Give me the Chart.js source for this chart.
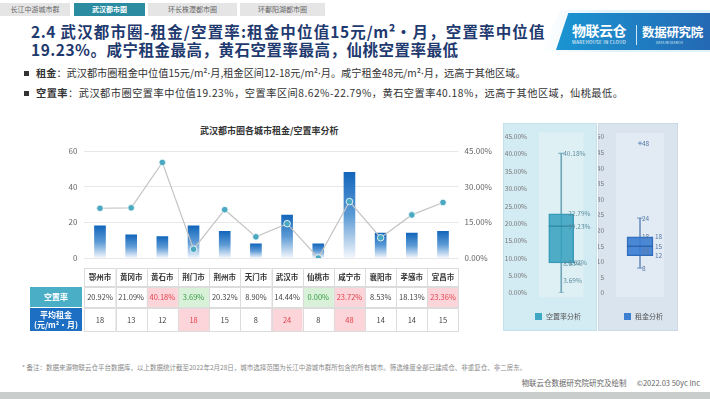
<!DOCTYPE html>
<html>
<head>
<meta charset="utf-8">
<script src="https://cdn.jsdelivr.net/npm/chart.js@4.4.0/dist/chart.umd.min.js"></script>
<style>
  body { margin: 0; width: 710px; height: 399px; overflow: hidden; background: #fff; position: relative;
         font-family: "Noto Sans CJK SC", "Noto Sans", sans-serif; }
  .tab { position: absolute; top: 3px; height: 13px; line-height: 13px; background: #e5e5e5; color: #666;
         font-size: 7px; text-align: center; }
  .tab.on { background: #2a8ba1; color: #fff; font-weight: bold; }
  .title { position: absolute; left: 31px; font-size: 15.5px; font-weight: bold; color: #1f3a6f;
           letter-spacing: 0.5px; line-height: 18px; white-space: nowrap; }
  .bullet { position: absolute; left: 24px; font-size: 10.2px; color: #333; white-space: nowrap; line-height: 12px; }
  .bullet i { display: inline-block; width: 5px; height: 5px; background: #333; margin-right: 7px; vertical-align: 1px; }
  .dot { font-family: "Noto Sans", sans-serif; }
  .abs { position: absolute; }
  .legend { position: absolute; top: 312px; font-size: 7px; color: #555; white-space: nowrap; line-height: 9px; }
  .legend i { display: inline-block; width: 7px; height: 7px; margin-right: 4px; vertical-align: -1px; }
</style>
</head>
<body>
<div class="tab" style="left:0;width:70px">长江中游城市群</div>
<div class="tab on" style="left:74px;width:71px">武汉都市圈</div>
<div class="tab" style="left:148px;width:89px">环长株潭都市圈</div>
<div class="tab" style="left:240px;width:85px">环鄱阳湖都市圈</div>

<div class="title" style="top:22px;width:514px;text-align:justify;text-align-last:justify">2.4 武汉都市圈-租金/空置率:租金中位值15元/m²·月，空置率中位值</div>
<div class="title" style="top:40px">19.23%。咸宁租金最高，黄石空置率最高，仙桃空置率最低</div>

<!-- logo -->
<div class="abs" style="left:540px;top:10px;width:170px;height:42px;background:linear-gradient(90deg,rgba(225,243,250,0),#e3f3fa 40%);clip-path:polygon(12% 0,100% 0,100% 100%,0 100%)"></div>
<div class="abs" style="left:556px;top:13px;width:154px;height:37px;background:linear-gradient(90deg,#1b95d2,#2469b3);clip-path:polygon(8% 0,100% 0,100% 100%,0 100%)"></div>
<div class="abs" style="left:572px;top:22px;color:#fff;font-size:14px;font-weight:bold;letter-spacing:-0.5px;line-height:16px">物联云仓</div>
<div class="abs" style="left:572px;top:40px;color:#fff;font-size:4.5px;line-height:5px;letter-spacing:0.3px">WAREHOUSE IN CLOUD</div>
<div class="abs" style="left:636px;top:25px;width:1px;height:20px;background:#cfe6f5"></div>
<div class="abs" style="left:642px;top:25px;color:#fff;font-size:12.5px;font-weight:bold;line-height:14px;letter-spacing:-0.3px">数据研究院</div>
<div class="abs" style="left:656px;top:41px;color:#d5e9f7;font-size:3.5px;line-height:4px">DATA RESEARCH</div>

<div class="bullet" style="top:67px"><i></i><b>租金</b>：武汉都市圈租金中位值15元/m²<span class="dot">·</span>月,租金区间12-18元/m²<span class="dot">·</span>月。咸宁租金48元/m²<span class="dot">·</span>月，远高于其他区域。</div>
<div class="bullet" style="top:87px;letter-spacing:0.5px"><i></i><b>空置率</b>：武汉都市圈空置率中位值19.23%，空置率区间8.62%-22.79%，黄石空置率40.18%，远高于其他区域，仙桃最低。</div>

<div class="abs" style="left:200px;top:124px;font-size:9px;font-weight:bold;color:#333;white-space:nowrap">武汉都市圈各城市租金/空置率分析</div>
<canvas id="main" class="abs" style="left:20px;top:120px" width="480" height="215"></canvas>

<div class="abs" style="left:503px;top:123px;width:92px;height:206px;background:#d3ebf2;border:1px solid #c4e0ea"></div>
<canvas id="boxVac" class="abs" style="left:503px;top:123px" width="94" height="208"></canvas>
<div class="legend" style="left:535px"><i style="background:#3fa7c4"></i>空置率分析</div>

<div class="abs" style="left:598px;top:123px;width:78px;height:206px;background:#d9e4ef;border:1px solid #cbd8e6"></div>
<canvas id="boxRent" class="abs" style="left:598px;top:123px" width="80" height="208"></canvas>
<div class="legend" style="left:624px"><i style="background:#3f7fd0"></i>租金分析</div>

<div class="abs" style="left:22px;top:362px;font-size:6.5px;color:#8a8a8a;white-space:nowrap">* 备注：数据来源物联云仓平台数据库，以上数据统计截至2022年2月28日，城市选择范围为长江中游城市群所包含的所有城市。筛选维度全部已建成仓、非重复仓、非二房东。</div>
<div class="abs" style="right:10px;top:377px;font-size:7.5px;color:#666;white-space:nowrap">物联云仓数据研究院研究及绘制 &nbsp; &nbsp; &nbsp;©2022.03 50yc Inc</div>
<div class="abs" style="left:0;top:392px;width:710px;height:7px;background:#c9cdcc"></div>

<script>
// data
const cities = ['鄂州市', '黄冈市', '黄石市', '荆门市', '荆州市', '天门市', '武汉市', '仙桃市', '咸宁市', '襄阳市', '孝感市', '宜昌市'];
const vacancy = [20.92, 21.09, 40.18, 3.69, 20.32, 8.90, 14.44, 0.00, 23.72, 8.53, 18.13, 23.36];
const rent = [18, 13, 12, 18, 15, 8, 24, 8, 48, 14, 14, 15];
const vacancyHigh = ['黄石市', '咸宁市', '宜昌市'];
const vacancyLow = ['荆门市', '仙桃市'];
const rentHigh = ['荆门市', '武汉市', '咸宁市'];

// box plot stats: min, q1, median, q3, max
const vacancyBox = [0, 8.62, 19.23, 22.79, 40.18];
const vacancyBoxLabels = [40.18, 8.53, 3.69];
const rentBox = [8, 12, 15, 18, 24];
const rentOutliers = [48];
const rentBoxLabels = [48, 24, 18, 14, 13, 8];

const FONT = '"Noto Sans CJK SC", "Noto Sans", sans-serif';
Chart.defaults.font.family = FONT;
Chart.defaults.animation = false;

function barFill(ctx) {
  const chart = ctx.chart;
  if (!chart.chartArea || ctx.type !== 'data') return '#1a6cc0';
  const y = chart.scales.y;
  const g = chart.ctx.createLinearGradient(0, y.getPixelForValue(ctx.raw), 0, y.getPixelForValue(0));
  g.addColorStop(0, '#1366bb');
  g.addColorStop(0.5, '#5c9ad5');
  g.addColorStop(1, '#f3f7fc');
  return g;
}

const tablePlugin = {
  id: 'table',
  afterDraw(chart) {
    const c = chart.ctx, x = chart.scales.x;
    const w = x.getPixelForValue(1) - x.getPixelForValue(0);
    const rows = [[148, 18], [167, 20], [188, 23]];
    c.save();
    c.textAlign = 'center';
    c.textBaseline = 'middle';
    // row heads
    c.fillStyle = '#4aaec7';
    c.fillRect(10, rows[1][0], 52, rows[1][1]);
    c.fillStyle = '#1d6fc3';
    c.fillRect(10, rows[2][0], 52, rows[2][1]);
    c.fillStyle = '#fff';
    c.font = 'bold 8px ' + FONT;
    c.fillText('空置率', 36, rows[1][0] + 10);
    c.fillText('平均租金', 36, rows[2][0] + 7);
    c.fillText('(元/m²·月)', 36, rows[2][0] + 17);
    cities.forEach((name, i) => {
      const l = x.getPixelForValue(i) - w / 2, cx = l + w / 2;
      const cells = [
        [name, '#fff', '#333', true],
        [vacancy[i].toFixed(2) + '%',
          vacancyHigh.includes(name) ? '#fbd5d9' : vacancyLow.includes(name) ? '#d8f1d8' : '#fff',
          vacancyHigh.includes(name) ? '#e2424f' : vacancyLow.includes(name) ? '#3b9c48' : '#444', false],
        [String(rent[i]), rentHigh.includes(name) ? '#fbd5d9' : '#fff', rentHigh.includes(name) ? '#e2424f' : '#444', false]
      ];
      cells.forEach((cell, r) => {
        const [t, h] = rows[r];
        c.fillStyle = cell[1];
        c.fillRect(l, t, w, h);
        c.strokeStyle = '#dcdcdc';
        c.lineWidth = 1;
        c.strokeRect(Math.round(l) + 0.5, t + 0.5, Math.round(w), h);
        c.fillStyle = cell[2];
        c.font = (cell[3] ? 'bold ' : '') + '7.5px ' + FONT;
        c.fillText(cell[0], cx, t + h / 2 + 0.5);
      });
    });
    c.restore();
  }
};

new Chart(document.getElementById('main'), {
  data: {
    labels: cities,
    datasets: [
      {
        type: 'line', label: '空置率', data: vacancy, yAxisID: 'y1', order: 1,
        borderColor: '#c4c4c4', borderWidth: 1.2, tension: 0,
        pointRadius: 3.3, pointBackgroundColor: '#4aa8c1', pointBorderColor: '#ffffff', pointBorderWidth: 0.8
      },
      {
        type: 'bar', label: '平均租金', data: rent, yAxisID: 'y', order: 2,
        backgroundColor: barFill, barThickness: 11
      }
    ]
  },
  options: {
    responsive: false,
    layout: { padding: { top: 31, bottom: 77 } },
    plugins: { legend: { display: false }, tooltip: { enabled: false } },
    scales: {
      x: { display: false, offset: true },
      y: {
        position: 'left', min: 0, max: 60,
        afterFit(s) { s.width = 64.4; },
        ticks: { stepSize: 20, padding: 7, color: '#666', font: { size: 8 } },
        grid: { color: '#e8e8e8', drawTicks: false },
        border: { display: false }
      },
      y1: {
        position: 'right', min: 0, max: 45,
        afterFit(s) { s.width = 41.4; },
        ticks: { stepSize: 15, padding: 6, color: '#666', font: { size: 8 }, callback: v => v.toFixed(2) + '%' },
        grid: { drawOnChartArea: false, drawTicks: false },
        border: { display: false }
      }
    }
  },
  plugins: [tablePlugin]
});

function boxChart(id, box, outliers, labels, opt) {
  const [min, q1, med, q3, max] = box;
  const areaPlugin = {
    id: 'area',
    beforeDraw(chart) {
      const a = chart.chartArea, c = chart.ctx;
      c.save();
      c.fillStyle = opt.inner;
      c.fillRect(a.left, a.top - 4, a.right - a.left, a.bottom - a.top + 8);
      c.restore();
    },
    afterDraw(chart) {
      const c = chart.ctx, y = chart.scales.y, cx = chart.scales.x.getPixelForValue(0);
      c.save();
      c.fillStyle = opt.text;
      c.font = '6.5px ' + FONT;
      c.textBaseline = 'middle';
      [q3, med, q1].forEach(v => c.fillText(opt.fmt(v), cx + opt.statDx, y.getPixelForValue(v)));
      labels.forEach(v => c.fillText(opt.fmt(v), cx + 2, y.getPixelForValue(v)));
      c.restore();
    }
  };
  return new Chart(document.getElementById(id), {
    type: 'bar',
    data: {
      datasets: [
        { type: 'scatter', data: [max, min].map(v => ({ x: 0, y: v })), pointStyle: 'line', pointRadius: 3,
          borderColor: opt.whisker, borderWidth: 1, order: 0 },
        { type: 'scatter', data: [{ x: 0, y: med }], pointStyle: 'line', pointRadius: opt.width / 2,
          borderColor: opt.median, borderWidth: 1, order: 0 },
        { type: 'scatter', data: outliers.map(v => ({ x: 0, y: v })), pointStyle: 'cross', pointRadius: 2,
          borderColor: opt.whisker, borderWidth: 1, order: 0 },
        { data: [{ x: 0, y: [q1, q3] }], backgroundColor: opt.fill, borderColor: opt.border, borderWidth: 1,
          borderSkipped: false, barThickness: opt.width, grouped: false, order: 1 },
        { data: [{ x: 0, y: [min, max] }], backgroundColor: opt.whisker, barThickness: 1, grouped: false, order: 2 }
      ]
    },
    options: {
      responsive: false,
      layout: { padding: { top: opt.top, bottom: 38, right: opt.right } },
      plugins: { legend: { display: false }, tooltip: { enabled: false } },
      scales: {
        x: { type: 'linear', min: -1, max: 1, display: false },
        y: {
          min: 0, max: opt.max,
          afterFit(s) { s.width = opt.axisW; },
          ticks: { stepSize: 5, padding: 4, color: '#777', font: { size: 6.5 }, callback: opt.tick },
          grid: { display: false },
          border: { display: false }
        }
      }
    },
    plugins: [areaPlugin]
  });
}

boxChart('boxVac', vacancyBox, [], vacancyBoxLabels, {
  max: 45, top: 12, right: 7, axisW: 36, width: 25,
  inner: '#dff0f5', fill: 'rgba(53,160,190,0.85)', border: '#3a98b5', median: '#2a7f99', whisker: '#6fa7b8',
  text: '#5d8ea0', statDx: 7, fmt: v => v.toFixed(2) + '%', tick: v => v.toFixed(2) + '%'
});
boxChart('boxRent', rentBox, rentOutliers, rentBoxLabels, {
  max: 50, top: 11, right: 6, axisW: 18, width: 26,
  inner: '#e2eaf3', fill: 'rgba(58,124,208,0.9)', border: '#2f6bb8', median: '#1f55a0', whisker: '#6f93c4',
  text: '#5a7aa8', statDx: 15, fmt: v => String(v), tick: v => String(v)
});
</script>
</body>
</html>
